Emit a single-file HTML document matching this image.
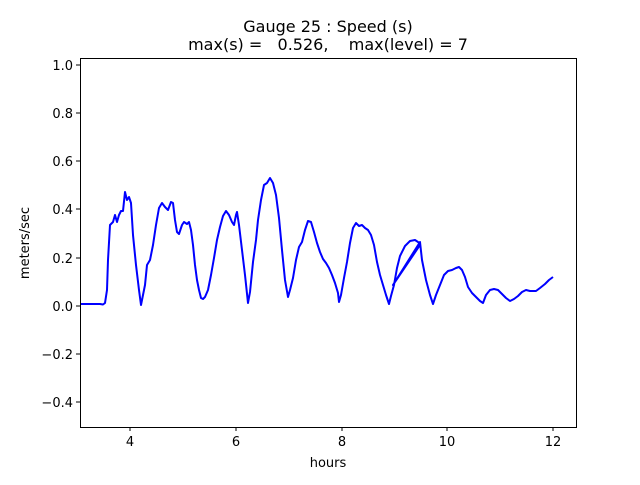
<!DOCTYPE html>
<html><head><style>body{margin:0;background:#fff}</style></head><body>
<svg width="640" height="480" xmlns="http://www.w3.org/2000/svg" font-family="DejaVu Sans, Liberation Sans, sans-serif">
<rect width="640" height="480" fill="#fff"/>
<text x="328" y="32" font-size="16" text-anchor="middle">Gauge 25 : Speed (s)</text>
<text x="328" y="50" font-size="16" text-anchor="middle" xml:space="preserve">max(s) =   0.526,    max(level) = 7</text>
<polyline fill="none" stroke="#0000ff" stroke-width="2" stroke-linejoin="round" points="80,304 100,304 103,304.5 105,303 107,290 108,260 110,225 113,222 115,215 117,222 119,215 121,211 123,211 125,192 127,200 129,197 131,203 133,235 136,265 139,290 141,305 143,295 145,285 147,265 150,260 153,245 156,225 159,208 162,203 165,207 168,210 171,202 173,203 175,220 177,232 179,234 182,225 184,222 187,224 189,222 191,230 193,245 195,265 197,280 199,290 201,298 203,299 205,297 208,290 211,275 214,258 217,240 220,227 223,216 226,211 229,215 232,222 234,225 236,215 237,212 239,225 242,250 245,275 248,303 250,292 253,262 256,240 258,220 261,200 264,185 267,183 270,178 273,183 276,195 279,218 282,250 285,280 288,297 290,290 293,278 296,260 299,247 302,242 305,230 308,221 311,222 314,232 317,243 320,252 323,259 326,263 329,268 332,275 335,283 338,293 339,302 341,295 344,278 347,262 350,243 353,228 356,223 359,226 362,225 365,228 368,230 371,235 374,245 377,262 380,275 383,285 386,295 389,304 391,296 394,285 397,268 400,256 405,246 410,241 415,240 418,242 420,245 393,285 420,242 422,260 426,280 430,295 433,304 436,295 440,285 444,275 448,271 452,270 456,268 459,267 462,270 465,277 468,287 472,293 476,297 480,301 483,303 486,295 490,290 494,289 498,290 502,294 506,298 510,301 514,299 518,296 522,292 526,290 530,291 536,291 540,288 545,284 549,280 553,277"/>
<rect x="80.5" y="58.5" width="496" height="369" fill="none" stroke="#000" stroke-width="1"/>
<g stroke="#000" stroke-width="1">
<line x1="130" y1="427" x2="130" y2="431"/><line x1="236" y1="427" x2="236" y2="431"/><line x1="342" y1="427" x2="342" y2="431"/><line x1="447" y1="427" x2="447" y2="431"/><line x1="553" y1="427" x2="553" y2="431"/>
<line x1="76" y1="65" x2="80" y2="65"/><line x1="76" y1="113" x2="80" y2="113"/><line x1="76" y1="161" x2="80" y2="161"/><line x1="76" y1="209" x2="80" y2="209"/><line x1="76" y1="258" x2="80" y2="258"/><line x1="76" y1="306" x2="80" y2="306"/><line x1="76" y1="354" x2="80" y2="354"/><line x1="76" y1="402" x2="80" y2="402"/>
</g>
<g font-size="13" text-anchor="middle">
<text x="130" y="446">4</text><text x="236" y="446">6</text><text x="342" y="446">8</text><text x="447" y="446">10</text><text x="553" y="446">12</text>
<text x="328" y="467">hours</text>
</g>
<g font-size="13" text-anchor="end">
<text x="73" y="70">1.0</text><text x="73" y="118">0.8</text><text x="73" y="166">0.6</text><text x="73" y="214">0.4</text><text x="73" y="263">0.2</text><text x="73" y="311">0.0</text><text x="73" y="359">−0.2</text><text x="73" y="407">−0.4</text>
</g>
<text transform="translate(29,243) rotate(-90)" font-size="13" text-anchor="middle">meters/sec</text>
</svg>
</body></html>
